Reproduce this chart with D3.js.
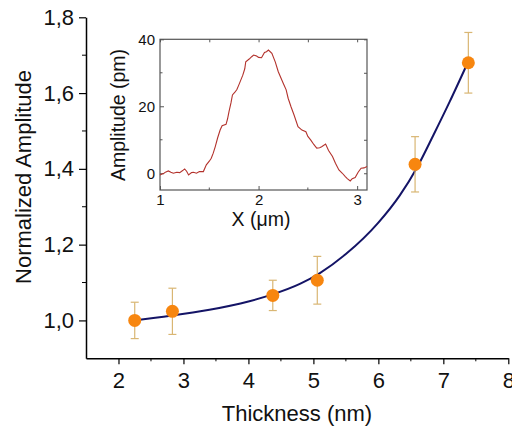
<!DOCTYPE html>
<html><head><meta charset="utf-8">
<script src="https://cdn.jsdelivr.net/npm/d3@7"></script>
<style>
html,body{margin:0;padding:0;background:#fff;}
svg{display:block;font-family:"Liberation Sans",Arial,sans-serif;}
</style></head>
<body><svg id="c" width="512" height="428"></svg>
<script>
// Main data: thickness (nm) vs normalized amplitude
const thickness = [2.25, 2.83, 4.375, 5.06, 6.565, 7.385];
const normAmp   = [1.000, 1.024, 1.066, 1.106, 1.412, 1.680];
const ampErr    = [0.048, 0.061, 0.040, 0.063, 0.073, 0.080];
// Fit curve
const fitX = [2.24, 2.8, 3.4, 4.0, 4.36, 4.8, 5.1, 5.5, 6.0, 6.33, 6.6, 6.85, 7.1, 7.375];
const fitY = [1.000, 1.012, 1.028, 1.050, 1.068, 1.097, 1.125, 1.175, 1.258, 1.330, 1.405, 1.490, 1.578, 1.680];
const xTicks = [2, 3, 4, 5, 6, 7, 8];
const xMinor = [2.5, 3.5, 4.5, 5.5, 6.5, 7.5];
const yTicks = [1.0, 1.2, 1.4, 1.6, 1.8];
const yMinor = [1.1, 1.3, 1.5, 1.7];
// Inset profile
const profX = [1.00,1.02,1.04,1.06,1.085,1.11,1.136,1.17,1.20,1.23,1.25,1.27,1.29,1.32,1.34,1.37,1.40,1.44,1.47,1.50,1.52,1.54,1.56,1.585,1.61,1.63,1.67,1.685,1.70,1.72,1.735,1.76,1.78,1.80,1.84,1.86,1.87,1.905,1.93,1.95,1.98,2.00,2.03,2.06,2.08,2.10,2.135,2.17,2.20,2.25,2.28,2.30,2.33,2.36,2.40,2.44,2.48,2.50,2.53,2.56,2.59,2.62,2.64,2.68,2.71,2.75,2.78,2.815,2.85,2.88,2.90,2.93,2.95,2.98,3.01,3.04,3.07,3.10];
const profY = [-0.5,-0.2,0.0,0.4,0.7,0.3,0.0,0.3,0.2,0.8,1.3,0.6,-0.5,0.2,0.3,0.0,0.5,0.5,2.5,3.6,4.5,6.0,7.9,10.6,12.9,14.2,14.6,16.2,18.4,21.0,23.4,24.2,25.0,26.4,29.3,31.2,33.3,34.1,34.8,35.3,35.0,34.6,34.5,36.1,36.3,36.8,35.8,33.2,30.3,26.9,24.9,22.4,19.8,17.4,13.9,12.9,12.4,11.0,9.9,8.6,7.5,7.6,7.9,8.7,6.8,5.0,3.0,1.0,0.0,-1.0,-1.6,-2.3,-1.6,-1.3,0.3,1.5,1.6,2.0];
const insetXTicks = [1, 2, 3];
const insetXMinor = [1.5, 2.5];
const insetYTicks = [0, 20, 40];
const insetYMinor = [10, 30];

const svg = d3.select("#c");
const fontMain = 22, fontInsetTick = 15, fontInsetLab = 19.5;

const x = d3.scaleLinear().domain([1.5, 8]).range([86, 508.3]);
const y = d3.scaleLinear().domain([0.9, 1.8]).range([358.3, 17.3]);

// Axes
const gx = svg.append("g").attr("transform", `translate(0,${y(0.9)})`)
  .call(d3.axisBottom(x).tickValues(xTicks).tickFormat(d3.format("d")).tickSize(6).tickSizeOuter(0).tickPadding(8));
gx.append("g").selectAll("line").data(xMinor).join("line")
  .attr("x1", d => x(d)).attr("x2", d => x(d)).attr("y1", 0).attr("y2", 3).attr("stroke", "#000");
const gy = svg.append("g").attr("transform", `translate(${x(1.5)},0)`)
  .call(d3.axisLeft(y).tickValues(yTicks).tickFormat(d => d3.format(".1f")(d).replace(".", ",")).tickSize(7).tickSizeOuter(0).tickPadding(5));
gy.append("g").selectAll("line").data(yMinor).join("line")
  .attr("x1", 0).attr("x2", -4).attr("y1", d => y(d)).attr("y2", d => y(d)).attr("stroke", "#000");
[gx, gy].forEach(g => {
  g.selectAll("text").attr("font-size", fontMain).attr("fill", "#111").attr("font-family", "Liberation Sans, Arial, sans-serif");
  g.selectAll(".domain").attr("stroke", "#000").attr("stroke-width", 1.5);
  g.selectAll(".tick line").attr("stroke-width", 1.2);
});

svg.append("text").attr("x", 297).attr("y", 421).attr("text-anchor", "middle")
  .attr("font-size", fontMain).attr("fill", "#111").text("Thickness (nm)");
svg.append("text").attr("transform", "translate(31,177) rotate(-90)").attr("text-anchor", "middle")
  .attr("font-size", fontMain).attr("fill", "#111").text("Normalized Amplitude");

// Fit line
svg.append("path").datum(fitX.map((d, i) => [d, fitY[i]]))
  .attr("d", d3.line().x(d => x(d[0])).y(d => y(d[1])).curve(d3.curveMonotoneX))
  .attr("fill", "none").attr("stroke", "#141466").attr("stroke-width", 2);

// Error bars + points
const pts = thickness.map((d, i) => ({x: d, y: normAmp[i], e: ampErr[i]}));
const eb = svg.append("g").attr("stroke", "#d9b673").attr("stroke-width", 1.2);
eb.selectAll("line.v").data(pts).join("line").attr("class", "v")
  .attr("x1", d => x(d.x)).attr("x2", d => x(d.x)).attr("y1", d => y(d.y - d.e)).attr("y2", d => y(d.y + d.e));
eb.selectAll("line.t").data(pts).join("line").attr("class", "t")
  .attr("x1", d => x(d.x) - 4).attr("x2", d => x(d.x) + 4).attr("y1", d => y(d.y + d.e)).attr("y2", d => y(d.y + d.e));
eb.selectAll("line.b").data(pts).join("line").attr("class", "b")
  .attr("x1", d => x(d.x) - 4).attr("x2", d => x(d.x) + 4).attr("y1", d => y(d.y - d.e)).attr("y2", d => y(d.y - d.e));
svg.append("g").selectAll("circle").data(pts).join("circle")
  .attr("cx", d => x(d.x)).attr("cy", d => y(d.y)).attr("r", 6.5).attr("fill", "#f7860f");

// Inset
const ix = d3.scaleLinear().domain([1, 3.1]).range([160, 367]);
const iy = d3.scaleLinear().domain([-5, 40]).range([190, 39.3]);
const ins = svg.append("g");
ins.append("rect").attr("x", ix(1)).attr("y", iy(40)).attr("width", ix(3.1) - ix(1)).attr("height", iy(-5) - iy(40))
  .attr("fill", "#fff").attr("stroke", "#555").attr("stroke-width", 1.2);
const ibx = ins.append("g").attr("transform", `translate(0,${iy(-5)})`)
  .call(d3.axisBottom(ix).tickValues(insetXTicks).tickFormat(d3.format("d")).tickSize(-4).tickSizeOuter(0).tickPadding(4));
const itx = ins.append("g").attr("transform", `translate(0,${iy(40)})`)
  .call(d3.axisTop(ix).tickValues(insetXTicks.concat(insetXMinor)).tickFormat("").tickSize(-3).tickSizeOuter(0));
const ily = ins.append("g").attr("transform", `translate(${ix(1)},0)`)
  .call(d3.axisLeft(iy).tickValues(insetYTicks).tickFormat(d3.format("d")).tickSize(-4).tickSizeOuter(0).tickPadding(5));
const iry = ins.append("g").attr("transform", `translate(${ix(3.1)},0)`)
  .call(d3.axisRight(iy).tickValues(insetYTicks.concat(insetYMinor)).tickFormat("").tickSize(-3).tickSizeOuter(0));
ins.append("g").selectAll("line").data(insetXMinor).join("line")
  .attr("x1", d => ix(d)).attr("x2", d => ix(d)).attr("y1", iy(-5)).attr("y2", iy(-5) - 2.5).attr("stroke", "#555");
ins.append("g").selectAll("line").data(insetYMinor).join("line")
  .attr("x1", ix(1)).attr("x2", ix(1) + 2.5).attr("y1", d => iy(d)).attr("y2", d => iy(d)).attr("stroke", "#555");
[ibx, itx, ily, iry].forEach(g => {
  g.selectAll(".domain").remove();
  g.selectAll(".tick line").attr("stroke", "#555");
  g.selectAll("text").attr("font-size", fontInsetTick).attr("fill", "#111").attr("font-family", "Liberation Sans, Arial, sans-serif");
});
ins.append("path").datum(profX.map((d, i) => [d, profY[i]]))
  .attr("d", d3.line().x(d => ix(d[0])).y(d => iy(d[1])))
  .attr("fill", "none").attr("stroke", "#b3322c").attr("stroke-width", 1.1);
ins.append("text").attr("x", 261).attr("y", 226).attr("text-anchor", "middle")
  .attr("font-size", fontInsetLab).attr("fill", "#111").text("X (μm)");
ins.append("text").attr("transform", "translate(125,115) rotate(-90)").attr("text-anchor", "middle")
  .attr("font-size", fontInsetLab).attr("fill", "#111").text("Amplitude (pm)");
</script></body></html>
